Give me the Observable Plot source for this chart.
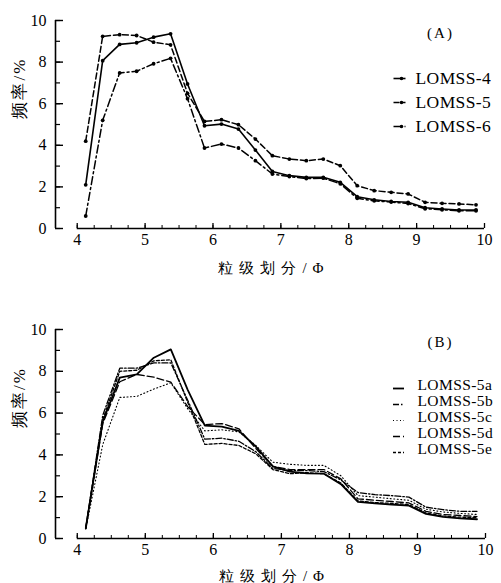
<!DOCTYPE html>
<html><head><meta charset="utf-8">
<script src="https://cdn.jsdelivr.net/npm/d3@7"></script>
<script src="https://cdn.jsdelivr.net/npm/@observablehq/plot@0.6"></script>
<style>
html,body{margin:0;padding:0;background:#fff;}
#chart svg{display:block;}
</style></head><body><div id="chart"></div>
<script>
// ---- data ----
const phi = [4.125, 4.375, 4.625, 4.875, 5.125, 5.375, 5.625, 5.875, 6.125, 6.375, 6.625, 6.875,
             7.125, 7.375, 7.625, 7.875, 8.125, 8.375, 8.625, 8.875, 9.125, 9.375, 9.625, 9.875];

const seriesA = ["LOMSS-4", "LOMSS-5", "LOMSS-6"];
const lomss4 = [2.1, 8.07, 8.85, 8.93, 9.2, 9.36, 6.95, 4.94, 5.02, 4.78, 3.77, 2.74, 2.54, 2.46, 2.46, 2.22, 1.53, 1.38, 1.3, 1.26, 1.0, 0.94, 0.89, 0.89];
const lomss5 = [4.2, 9.24, 9.32, 9.28, 8.96, 8.83, 6.5, 5.15, 5.23, 4.99, 4.3, 3.5, 3.34, 3.26, 3.34, 3.02, 2.06, 1.82, 1.74, 1.66, 1.26, 1.21, 1.18, 1.14];
const lomss6 = [0.6, 5.2, 7.48, 7.56, 7.92, 8.18, 6.24, 3.87, 4.06, 3.87, 3.26, 2.62, 2.5, 2.4, 2.42, 2.15, 1.45, 1.33, 1.27, 1.2, 0.95, 0.9, 0.85, 0.85];

const seriesB = ["LOMSS-5a", "LOMSS-5b", "LOMSS-5c", "LOMSS-5d", "LOMSS-5e"];
const lomss5a = [0.5, 5.6, 7.7, 7.85, 8.65, 9.05, 7.1, 5.4, 5.35, 5.15, 4.4, 3.45, 3.2, 3.12, 3.1, 2.6, 1.75, 1.68, 1.62, 1.57, 1.18, 1.03, 0.96, 0.92];
const lomss5b = [0.5, 5.9, 8.15, 8.15, 8.4, 8.4, 6.6, 4.75, 4.8, 4.65, 4.15, 3.35, 3.25, 3.25, 3.2, 2.8, 2.2, 2.1, 2.05, 1.98, 1.5, 1.38, 1.3, 1.3];
const lomss5c = [0.45, 4.5, 6.75, 6.8, 7.15, 7.45, 6.2, 5.15, 5.2, 5.1, 4.45, 3.65, 3.55, 3.5, 3.5, 3.0, 2.05, 1.98, 1.9, 1.83, 1.4, 1.27, 1.2, 1.15];
const lomss5d = [0.5, 5.5, 7.5, 7.85, 7.72, 7.48, 6.3, 5.45, 5.5, 5.25, 4.3, 3.45, 3.3, 3.3, 3.3, 2.85, 1.9, 1.83, 1.77, 1.7, 1.3, 1.15, 1.1, 1.05];
const lomss5e = [0.5, 5.7, 8.0, 8.05, 8.5, 8.55, 6.5, 4.5, 4.55, 4.45, 4.05, 3.3, 3.1, 3.15, 3.1, 2.65, 1.8, 1.72, 1.68, 1.62, 1.22, 1.08, 1.02, 1.0];

const yTickLabels = [0, 2, 4, 6, 8, 10];
const xTickLabels = [4, 5, 6, 7, 8, 9, 10];
const xTitle = "粒级划分/Φ";
const yTitle = "频率/%";
const panelLabels = ["(A)", "(B)"];

// ---- helpers ----
const X0 = 3.68;
const seg = (len) => ({draw(ctx) { ctx.moveTo(-len / 2, 0); ctx.lineTo(len / 2, 0); }});
const rowsOf = (vals) => phi.map((x, i) => ({x, y: vals[i]}));

function panel(cfg) {
  const {height, marginTop, marginBottom, marginRight, series, values, styles, label, legend, markers} = cfg;
  const W = 501, marginLeft = 55;
  const fw = W - marginLeft - marginRight, fh = height - marginTop - marginBottom;
  const marks = [
    Plot.ruleX([X0], {y1: 0, y2: 10, stroke: "black", strokeWidth: 1.6}),
    Plot.ruleY([0], {x1: 4, x2: 10, stroke: "black", strokeWidth: 1.6}),
    Plot.tickY(d3.range(0, 11, 1), {y: d => d, stroke: "black", strokeWidth: 1.2, insetRight: fw - 5}),
    Plot.tickY(yTickLabels, {y: d => d, stroke: "black", strokeWidth: 1.4, insetRight: fw - 8}),
    Plot.tickX(d3.range(4, 10.01, 0.25), {x: d => d, stroke: "black", strokeWidth: 1, insetTop: fh - 3}),
    Plot.tickX(xTickLabels, {x: d => d, stroke: "black", strokeWidth: 1.3, insetTop: fh - 5}),
    Plot.axisY({ticks: yTickLabels, tickSize: 0, tickPadding: 9, fontSize: 16, label: null, tickFormat: d3.format("d")}),
    Plot.axisX({ticks: xTickLabels, tickSize: 0, tickPadding: 5, fontSize: 16, label: null, tickFormat: d3.format("d")}),
    Plot.text([xTitle], {frameAnchor: "bottom", dy: cfg.xTitleDy, dx: 4, fontSize: 15, lineAnchor: "middle"}),
    Plot.text([yTitle], {frameAnchor: "left", dx: -36, dy: cfg.yTitleDy, rotate: -90, fontSize: 17, lineAnchor: "middle"}),
    Plot.text([label], {frameAnchor: "top-right", dx: cfg.labelDx, dy: 13, fontSize: 15, lineAnchor: "middle", textAnchor: "middle"})
  ];
  series.forEach((name, i) => {
    const st = styles[i];
    marks.push(Plot.line(rowsOf(values[i]), {x: "x", y: "y", stroke: "black", strokeWidth: st.w, strokeDasharray: st.dash, curve: "linear"}));
    if (markers) marks.push(Plot.dot(rowsOf(values[i]), {x: "x", y: "y", fill: "black", r: 1.9}));
    // legend
    const dy = legend.dy0 + i * legend.step;
    marks.push(Plot.dot([name], {frameAnchor: "top-right", dx: legend.symDx, dy: dy + (legend.symOff || 0), symbol: seg(legend.symLen),
      stroke: "black", fill: "none", strokeWidth: st.w, strokeDasharray: st.dash, r: 3}));
    if (markers) marks.push(Plot.dot([name], {frameAnchor: "top-right", dx: legend.symDx + 2, dy, fill: "black", r: 1.8}));
    marks.push(Plot.text([name], {frameAnchor: "top-right", dx: legend.textDx, dy, textAnchor: "start", lineAnchor: "middle", fontSize: legend.fontSize}));
  });
  const svg = Plot.plot({
    width: W, height, marginLeft, marginRight, marginTop, marginBottom,
    x: {domain: [X0, 10]},
    y: {domain: [0, 10]},
    style: {fontFamily: "Liberation Serif", background: "white", color: "black", overflow: "visible"},
    marks
  });
  const sel = d3.select(svg).selectAll("text");
  sel.filter(function() { return this.textContent === xTitle; }).attr("letter-spacing", "6px");
  sel.filter(function() { return this.textContent === yTitle; }).attr("letter-spacing", "2px");
  sel.filter(function() { return panelLabels.includes(this.textContent); }).attr("letter-spacing", "2px");
  sel.filter(function() { return seriesA.includes(this.textContent) || seriesB.includes(this.textContent); }).attr("letter-spacing", "0.4px");
  return svg;
}

const chart = document.getElementById("chart");
chart.appendChild(panel({
  height: 290, marginTop: 20, marginBottom: 62, marginRight: 17,
  series: seriesA, values: [lomss4, lomss5, lomss6],
  styles: [{w: 1.6, dash: null}, {w: 1.5, dash: "6,3"}, {w: 1.5, dash: "8,3,2,3"}],
  markers: true, label: panelLabels[0], labelDx: -44,
  xTitleDy: 40, yTitleDy: -6,
  legend: {dy0: 58, step: 24, symDx: -85, symLen: 12, textDx: -69, fontSize: 17.5}
}));
chart.appendChild(panel({
  height: 293, marginTop: 39, marginBottom: 45, marginRight: 16,
  series: seriesB, values: [lomss5a, lomss5b, lomss5c, lomss5d, lomss5e],
  styles: [{w: 1.8, dash: null}, {w: 1.3, dash: "6,2,1.5,2"}, {w: 1.1, dash: "1,2.5"}, {w: 1.3, dash: "7,3"}, {w: 1.3, dash: "3,2"}],
  markers: false, label: panelLabels[1], labelDx: -45,
  xTitleDy: 38, yTitleDy: -6,
  legend: {dy0: 56, step: 16, symDx: -87, symLen: 11, symOff: 3, textDx: -68, fontSize: 15.5}
}));
</script></body></html>
